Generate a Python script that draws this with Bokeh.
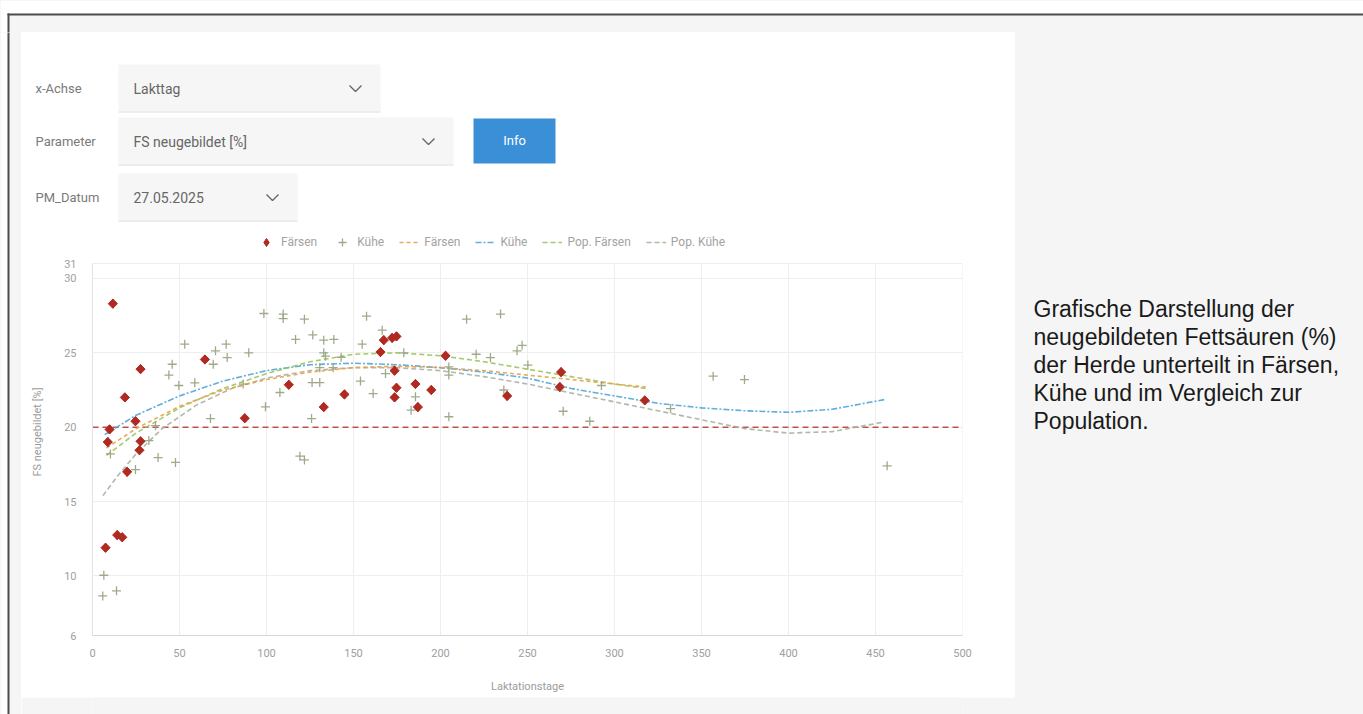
from bokeh.plotting import figure
from bokeh.layouts import column, row
from bokeh.models import Range1d, FixedTicker, Legend, LegendItem, Span
from bokeh.core.properties import value
from bokeh.embed import file_html
from bokeh.resources import INLINE

# ---------------- data ----------------
faersen_x = [11.7, 27.6, 18.6, 24.7, 9.8, 27.6, 8.8, 27.0, 19.9, 14.2, 17.1, 7.5,
             64.6, 87.5, 112.8, 132.9, 144.8, 165.5, 167.4, 172.2, 174.7, 173.6,
             174.7, 173.6, 185.6, 187.0, 194.7, 202.9, 238.3, 269.3, 268.6, 317.4]
faersen_y = [28.3, 23.9, 22.0, 20.4, 19.85, 19.05, 19.0, 18.45, 17.0, 12.75, 12.6, 11.9,
             24.55, 20.6, 22.85, 21.35, 22.2, 25.05, 25.85, 26.0, 26.1, 23.8,
             22.65, 22.0, 22.9, 21.35, 22.5, 24.8, 22.1, 23.7, 22.7, 21.8]

kuehe_x = [6.5, 5.9, 13.8, 10.3, 24.7, 32.4, 37.7, 47.7, 36.2, 43.9, 45.8, 53.0,
           49.6, 58.8, 70.7, 69.4, 76.8, 77.4, 67.8, 89.8, 86.6, 99.4, 98.5, 109.6,
           109.6, 121.8, 116.7, 107.7, 119.2, 121.8, 126.6, 132.9, 138.7, 132.9, 133.9,
           142.9, 130.6, 126.2, 130.6, 125.9, 138.3, 154.0, 155.0, 157.5, 161.3, 166.5,
           168.4, 178.9, 185.6, 183.1, 204.8, 204.8, 204.8, 215.0, 220.5, 228.7, 234.5,
           236.4, 246.9, 244.0, 250.2, 270.5, 285.8, 292.5, 332.2, 356.7, 374.7, 456.7]
kuehe_y = [10.05, 8.66, 9.0, 18.2, 17.15, 19.1, 17.96, 17.63, 20.1, 23.5, 24.23, 25.58,
           22.8, 22.98, 25.13, 24.23, 25.58, 24.68, 20.58, 25.0, 22.9, 21.37, 27.64, 27.6,
           27.3, 27.26, 25.9, 22.33, 18.05, 17.8, 26.2, 25.85, 25.9, 25.0, 24.77,
           24.7, 24.0, 23.0, 23.0, 20.58, 24.0, 23.1, 25.58, 27.46, 22.26, 26.52,
           23.6, 25.0, 22.04, 21.14, 20.7, 24.05, 23.5, 27.26, 24.9, 24.68, 27.6,
           22.5, 25.5, 25.13, 24.17, 21.07, 20.4, 22.8, 21.25, 23.43, 23.2, 17.4]

fit_faersen_x = [8, 25, 50, 75, 100, 125, 150, 175, 200, 225, 250, 275, 300, 318]
fit_faersen_y = [18.6, 19.9, 21.4, 22.5, 23.2, 23.7, 24.0, 24.1, 24.0, 23.8, 23.5, 23.2, 22.9, 22.7]

fit_kuehe_x = [7, 25, 50, 75, 100, 125, 150, 175, 200, 225, 250, 275, 300, 325, 350, 375, 400, 425, 455]
fit_kuehe_y = [19.5, 20.8, 22.1, 23.1, 23.8, 24.2, 24.3, 24.2, 24.0, 23.7, 23.3, 22.6, 22.1,
               21.6, 21.3, 21.1, 21.0, 21.2, 21.85]

pop_faersen_x = [8, 25, 50, 75, 100, 125, 150, 175, 200, 225, 250, 275, 300, 318]
pop_faersen_y = [18.1, 19.6, 21.3, 22.6, 23.6, 24.4, 24.9, 25.0, 24.8, 24.4, 23.9, 23.4, 22.9, 22.6]

pop_kuehe_x = [6, 15, 25, 40, 60, 80, 100, 125, 150, 175, 200, 225, 250, 275, 300, 325,
               350, 375, 400, 425, 455]
pop_kuehe_y = [15.4, 16.8, 18.2, 19.9, 21.5, 22.6, 23.3, 23.8, 24.0, 24.0, 23.8, 23.4, 22.9,
               22.3, 21.7, 21.1, 20.5, 19.9, 19.6, 19.7, 20.35]

ref_level = 20
x_ticks = [0, 50, 100, 150, 200, 250, 300, 350, 400, 450, 500]
y_ticks = [6, 10, 15, 20, 25, 30, 31]
y_min, y_max = 6, 31

legend_labels = ["Färsen", "Kühe", "Färsen", "Kühe", "Pop. Färsen", "Pop. Kühe"]
control_labels = ["x-Achse", "Parameter", "PM_Datum"]
control_values = ["Lakttag", "FS neugebildet [%]", "27.05.2025"]
caption_lines = ["Grafische Darstellung der", "neugebildeten Fettsäuren (%)",
                 "der Herde unterteilt in Färsen,", "Kühe und im Vergleich zur",
                 "Population."]

# ---------------- page layout (pixels) ----------------
PAGE_W, PAGE_H = 1363, 714
GRAY = "#f5f5f5"
DARK = "#4d4d4d"
PANEL_L, PANEL_R, PANEL_T, PANEL_B = 21, 1015, 32, 697
CHART_T = 226                  # top of the chart figure
FRAME_L, FRAME_R, FRAME_T, FRAME_B = 92, 962, 228, 635   # frame incl. legend band
AXIS_TOP = 263                 # pixel row of y_max


def deco(x0, y0, x1, y1, bg=GRAY):
    f = figure(width=x1 - x0, height=y1 - y0, x_range=Range1d(x0, x1),
               y_range=Range1d(y1, y0), output_backend="svg", toolbar_location=None,
               x_axis_location=None, y_axis_location=None, min_border=0)
    f.grid.visible = False
    f.outline_line_color = None
    f.background_fill_color = bg
    f.border_fill_color = bg
    return f


def rect(f, x0, y0, x1, y1, color):
    f.quad(left=[x0], right=[x1], top=[y0], bottom=[y1], fill_color=color,
           line_color=None)


def txt(f, x, y, t, size="13px", color="#777777", font="Roboto", align="left",
        baseline="middle"):
    f.text(x=[x], y=[y], text=[t], text_font=value(font), text_font_size=size,
           text_color=color, text_align=align, text_baseline=baseline)


def chevron(f, cx, cy):
    f.line([cx - 6, cx, cx + 6], [cy - 3, cy + 3, cy - 3], line_color="#666666",
           line_width=1.4)


# --- top strip (above the white panel) ---
top = deco(0, 0, PAGE_W, PANEL_T)
rect(top, 0, 0, PAGE_W, 13, "white")
rect(top, 0, 13, 7, PANEL_T, "white")
rect(top, 7, 13, PAGE_W, 15, DARK)
rect(top, 7, 13, 9, PANEL_T, DARK)

# --- left strip ---
left = deco(0, PANEL_T, PANEL_L, PAGE_H)
rect(left, 0, PANEL_T - 1, 7, PAGE_H, "white")
rect(left, 7, PANEL_T - 1, 9, PAGE_H, DARK)

# --- controls (white panel, upper part) ---
ctrl = deco(PANEL_L, PANEL_T, PANEL_R, CHART_T, bg="white")
rows_y = [88, 141, 197]
box_right = [380, 453, 297]
for lab, val, yc, xr in zip(control_labels, control_values, rows_y, box_right):
    txt(ctrl, 35, yc, lab, size="13px", color="#7a7a7a")
    rect(ctrl, 118, yc - 24, xr, yc + 24, "#f6f6f6")
    rect(ctrl, 118, yc + 23, xr, yc + 24, "#e2e2e2")
    txt(ctrl, 133, yc, val, size="14px", color="#666666")
    chevron(ctrl, xr - 25, yc)
rect(ctrl, 473, 118, 555, 163, "#3b8fd6")
txt(ctrl, 514, 140, "Info", size="13px", color="white", align="center")

# --- right area with caption ---
right = deco(PANEL_R, PANEL_T, PAGE_W, PAGE_H)
for i, t in enumerate(caption_lines):
    txt(right, 1033, 308 + 28 * i, t, size="23px", color="#1a1a1a",
        font="Liberation Sans", baseline="alphabetic")

# --- bottom strip below the white panel ---
bottom = deco(PANEL_L, PANEL_B, PANEL_R, PAGE_H)

# ---------------- chart ----------------
px_per_unit = (FRAME_B - AXIS_TOP) / (y_max - y_min)
y_top = y_max + (AXIS_TOP - FRAME_T) / px_per_unit      # room for the legend band

p = figure(width=PANEL_R - PANEL_L, height=PANEL_B - CHART_T,
           x_range=Range1d(0, 500), y_range=Range1d(y_min, y_top),
           output_backend="svg", toolbar_location=None,
           min_border_left=FRAME_L - PANEL_L, min_border_right=PANEL_R - FRAME_R,
           min_border_top=FRAME_T - CHART_T, min_border_bottom=PANEL_B - FRAME_B)
p.background_fill_color = "white"
p.border_fill_color = "white"
p.outline_line_color = None

p.xaxis.ticker = FixedTicker(ticks=x_ticks)
p.yaxis.ticker = FixedTicker(ticks=y_ticks)
p.yaxis.bounds = (y_min, y_max)
p.xgrid.grid_line_color = None
p.xgrid.visible = False
p.ygrid.grid_line_color = "#eeeeee"
# vertical grid lines, limited to the axis extent
p.segment(x0=x_ticks, y0=[y_min] * len(x_ticks), x1=x_ticks, y1=[y_max] * len(x_ticks),
          line_color="#eeeeee", line_width=1, level="underlay")
p.xaxis.axis_line_color = "#d6d6d6"
p.yaxis.axis_line_color = "#e2e2e2"
p.axis.major_tick_line_color = None
p.axis.minor_tick_line_color = None
p.axis.major_label_text_color = "#a0a0a0"
p.axis.major_label_text_font = "Roboto"
p.axis.major_label_text_font_size = "11px"
p.xaxis.axis_label = "Laktationstage"
p.yaxis.axis_label = "FS neugebildet [%]"
p.axis.axis_label_text_font_style = "normal"
p.axis.axis_label_text_font = "Roboto"
p.axis.axis_label_text_color = "#9c9c9c"
p.axis.axis_label_text_font_size = "11px"
p.xaxis.major_label_standoff = 7
p.xaxis.axis_label_standoff = 20
p.yaxis.major_label_standoff = 10
p.yaxis.axis_label_standoff = 17

p.add_layout(Span(location=ref_level, dimension="width", line_color="#c0504d",
                  line_dash="6 4", line_width=1.4, level="underlay"))

r_fit_k = p.line(fit_kuehe_x, fit_kuehe_y, line_color="#4fa6d6", line_width=1.6,
                 line_dash="6 2 2 2", line_alpha=0.9)
r_pop_k = p.line(pop_kuehe_x, pop_kuehe_y, line_color="#aab0a0", line_width=1.6,
                 line_dash="5 3", line_alpha=0.9)
r_pop_f = p.line(pop_faersen_x, pop_faersen_y, line_color="#9cc45a", line_width=1.6,
                 line_dash="5 3", line_alpha=0.9)
r_fit_f = p.line(fit_faersen_x, fit_faersen_y, line_color="#e8a04a", line_width=1.6,
                 line_dash="4 3", line_alpha=0.9)

r_k = p.scatter(kuehe_x, kuehe_y, marker="cross", size=9, line_width=1.3,
                line_color="#93a27d", line_alpha=0.9)
# diamond-shaped proxy (hidden beneath the rotated squares) used for the legend symbol
r_f_leg = p.scatter(faersen_x, faersen_y, marker="diamond", size=9,
                    fill_color="#b02a22", line_color="#b02a22")
r_f = p.scatter(faersen_x, faersen_y, marker="square", angle=0.785398, size=6.5,
                fill_color="#b02a22", line_color="#b02a22")

legend = Legend(items=[LegendItem(label=legend_labels[0], renderers=[r_f_leg]),
                       LegendItem(label=legend_labels[1], renderers=[r_k]),
                       LegendItem(label=legend_labels[2], renderers=[r_fit_f]),
                       LegendItem(label=legend_labels[3], renderers=[r_fit_k]),
                       LegendItem(label=legend_labels[4], renderers=[r_pop_f]),
                       LegendItem(label=legend_labels[5], renderers=[r_pop_k])],
                orientation="horizontal", location=(256 - FRAME_L, FRAME_B - 255),
                label_text_font="Roboto", label_text_font_size="12px",
                label_text_color="#a3a3a3", glyph_width=20, glyph_height=26,
                label_standoff=5, spacing=15, padding=1, margin=0,
                background_fill_alpha=0, border_line_color=None)
p.add_layout(legend)

middle = column(row(ctrl), p, bottom, styles={"background-color": "white"})
layout = column(top, row(left, middle, right), styles={"background-color": GRAY})
open("out.html", "w").write(file_html(layout, INLINE))
